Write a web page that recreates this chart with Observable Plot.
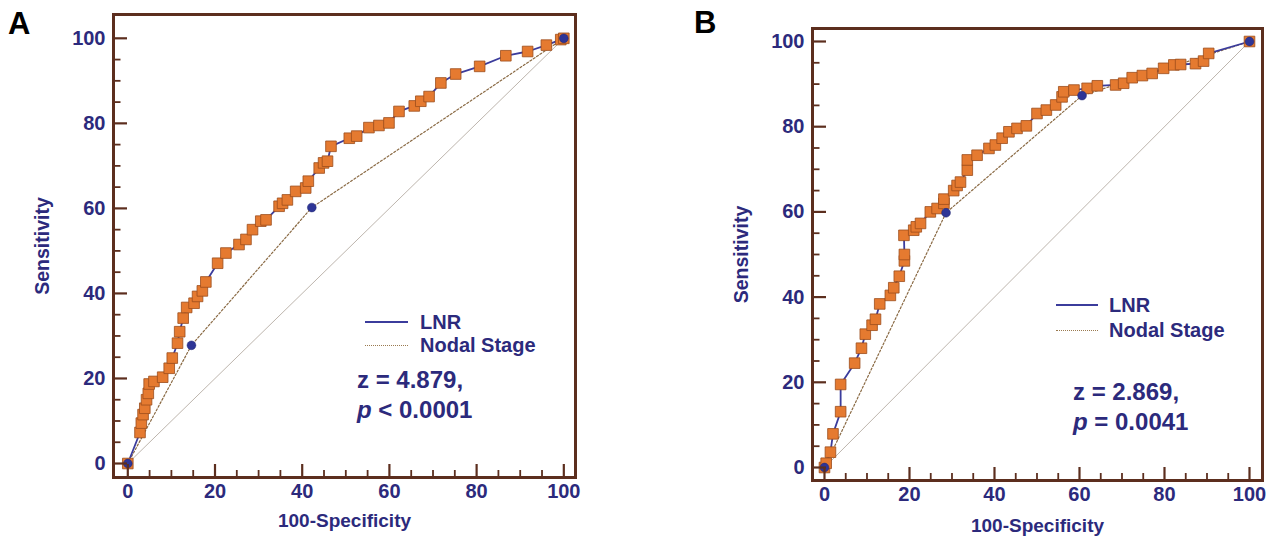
<!DOCTYPE html>
<html><head><meta charset="utf-8">
<script src="https://cdn.jsdelivr.net/npm/d3@7"></script>
<script src="https://cdn.jsdelivr.net/npm/@observablehq/plot@0.6"></script>
<style>
body{margin:0;background:#fff;width:1271px;height:544px;position:relative;overflow:hidden;font-family:Arial,"Liberation Sans",sans-serif;}
.panel{position:absolute;top:0;}
.tag{position:absolute;font-weight:bold;font-size:31px;line-height:1;color:#000;}
.lg{position:absolute;font-weight:bold;color:#2c2a7c;font-size:20px;line-height:1;white-space:nowrap;}
.zt{position:absolute;font-weight:bold;color:#2c2a7c;font-size:24px;line-height:1;white-space:nowrap;}
.sw{position:absolute;height:0;}
</style></head>
<body>
<div class="tag" style="left:8px;top:8px;">A</div>
<div class="tag" style="left:694px;top:7px;">B</div>
<div id="pa" class="panel" style="left:0;width:640px;"></div>
<div id="pb" class="panel" style="left:640px;width:631px;"></div>

<div class="sw" style="left:365px;top:321px;width:43px;border-top:2px solid #3b3c9c;"></div>
<div class="lg" style="left:420px;top:312px;">LNR</div>
<div class="sw" style="left:365px;top:345px;width:43px;border-top:1px dotted #9a7a50;"></div>
<div class="lg" style="left:420px;top:335px;">Nodal Stage</div>
<div class="zt" style="left:357px;top:368px;">z = 4.879,</div>
<div class="zt" style="left:357px;top:398px;"><i>p</i> &lt; 0.0001</div>

<div class="sw" style="left:1056px;top:304px;width:42px;border-top:2px solid #3b3c9c;"></div>
<div class="lg" style="left:1109px;top:295px;">LNR</div>
<div class="sw" style="left:1056px;top:330px;width:42px;border-top:1px dotted #9a7a50;"></div>
<div class="lg" style="left:1109px;top:320px;">Nodal Stage</div>
<div class="zt" style="left:1073px;top:380px;">z = 2.869,</div>
<div class="zt" style="left:1073px;top:410px;"><i>p</i> = 0.0041</div>

<script>
// ---- Data (100-Specificity, Sensitivity) ----
const aLnrX = [0,2.8,3.1,3.5,3.9,4.3,4.7,4.9,6,8,9.5,10.2,11.4,11.9,12.7,13.5,15.2,16,17.1,17.9,20.6,22.5,25.5,27.1,28.6,30.5,31.7,34.7,35.5,36.6,38.5,40.8,41.4,43.9,44.9,45.8,46.6,50.8,52.5,55.3,57.6,59.9,62.2,65.7,67.2,69.1,71.8,75.2,80.7,86.7,91.7,96,99.3,100];
const aLnrY = [0,7.3,9.5,11.5,13,15,16.5,18.7,19.3,20.3,22.4,24.8,28.3,31,34.2,36.7,37.7,39.3,40.6,42.7,47.1,49.5,51.5,52.7,55,57,57.3,60.5,61.2,62,64,64.8,66.4,69.5,70.7,71.1,74.6,76.5,77,79,79.5,80.1,82.8,84.1,85.2,86.3,89.5,91.6,93.4,95.9,96.9,98.4,99.7,100];
const aNodalX = [0,14.6,42.2,100];
const aNodalY = [0,27.8,60.2,100];

const bLnrX = [0,0.4,1.4,2,3.8,3.8,7.1,8.7,9.6,11.2,12,13,15.5,16.3,17.6,18.8,18.8,18.7,21,21.6,22.6,24.9,26.5,28.1,28.1,30.4,31.2,32,33.6,33.6,35.9,38.7,40.2,41.8,43.4,45.3,47.5,50,52.2,54.4,55.9,56.3,58.7,61.8,64.2,68.5,70.4,72.4,74.8,77.1,79.8,82.2,83.8,87.3,89.2,90.4,100];
const bLnrY = [0,1,3.6,7.9,13.1,19.5,24.5,28,31.3,33.4,34.8,38.4,40.4,42.2,44.9,48.5,50,54.5,55.7,56.5,57.3,60,60.8,62,63,65,66.2,67,69.8,72.2,73.3,74.9,75.7,77.3,78.8,79.6,80.2,83.1,83.9,85.1,87,88.2,88.6,89,89.6,89.8,90.2,91.5,92,92.5,93.7,94.5,94.6,94.8,95.4,97.2,100];
const bNodalX = [0,28.6,60.6,100];
const bNodalY = [0,59.8,87.3,100];

const diagX = [0,100];
const diagY = [0,100];

const majorTicks = [0,20,40,60,80,100];
const minorTicks = [5,10,15,25,30,35,45,50,55,65,70,75,85,90,95];
const xTitle = "100-Specificity";
const yTitle = "Sensitivity";

// ---- Styles ----
const NAVY = "#2c2a7c";
const BROWN = "#5c2e1e";
const LINE = "#3b3c9c";
const SQ_FILL = "#e57a30";
const SQ_STROKE = "#9c4c1c";
const DOT = "#2e3596";
const FONT = "Arial, 'Liberation Sans', sans-serif";

function zip(xs, ys){ return xs.map((x,i)=>({x, y: ys[i]})); }

function panel(cfg){
  const {width, height, ml, mr, mt, mb, xDom, yDom, lnr, nodal, yTitleDx, xTitleDy} = cfg;
  const kx = (width - ml - mr) / (xDom[1] - xDom[0]);
  const ky = (height - mt - mb) / (yDom[1] - yDom[0]);
  const diag = zip(diagX, diagY);
  return Plot.plot({
    width, height,
    marginLeft: ml, marginRight: mr, marginTop: mt, marginBottom: mb,
    style: {fontFamily: FONT, fontWeight: "bold", background: "transparent", overflow: "visible"},
    x: {domain: xDom},
    y: {domain: yDom},
    marks: [
      Plot.line(diag, {x: "x", y: "y", stroke: "#bdb5ad", strokeWidth: 1}),
      Plot.line(nodal, {x: "x", y: "y", stroke: "#8a6a44", strokeWidth: 1.2, strokeDasharray: "2,2"}),
      Plot.line(lnr, {x: "x", y: "y", stroke: LINE, strokeWidth: 1.8}),
      Plot.dot(lnr, {x: "x", y: "y", symbol: "square", r: 6, fill: SQ_FILL, stroke: SQ_STROKE, strokeWidth: 0.8}),
      Plot.dot(nodal, {x: "x", y: "y", r: 4.4, fill: DOT, stroke: "#1f2470", strokeWidth: 0.5}),
      // inward ticks
      Plot.ruleY(majorTicks, {y: d => d, x1: xDom[0], x2: xDom[0] + 14 / kx, stroke: BROWN, strokeWidth: 2.2}),
      Plot.ruleY(minorTicks, {y: d => d, x1: xDom[0], x2: xDom[0] + 7.5 / kx, stroke: BROWN, strokeWidth: 1.8}),
      Plot.ruleX(majorTicks, {x: d => d, y1: yDom[0], y2: yDom[0] + 13 / ky, stroke: BROWN, strokeWidth: 2.2}),
      Plot.ruleX(minorTicks, {x: d => d, y1: yDom[0], y2: yDom[0] + 7 / ky, stroke: BROWN, strokeWidth: 1.8}),
      Plot.frame({stroke: BROWN, strokeWidth: 3}),
      Plot.axisY(majorTicks, {anchor: "left", tickSize: 0, tickPadding: 8, fontSize: 20, fontWeight: "bold", color: NAVY, label: null}),
      Plot.axisX(majorTicks, {anchor: "bottom", tickSize: 0, tickPadding: 6, fontSize: 20, fontWeight: "bold", color: NAVY, label: null}),
      Plot.text([yTitle], {text: d => d, frameAnchor: "left", textAnchor: "middle", dx: yTitleDx, rotate: -90, fontSize: 19.5, fontWeight: "bold", fill: NAVY}),
      Plot.text([xTitle], {text: d => d, frameAnchor: "bottom", textAnchor: "middle", dy: xTitleDy, fontSize: 19, fontWeight: "bold", fill: NAVY})
    ]
  });
}

document.getElementById("pa").append(panel({
  width: 640, height: 544, ml: 113, mr: 65, mt: 14, mb: 67,
  xDom: [-3.28, 102.68], yDom: [-3.29, 105.6],
  lnr: zip(aLnrX, aLnrY), nodal: zip(aNodalX, aNodalY),
  yTitleDx: -71, xTitleDy: 49
}));
document.getElementById("pb").append(panel({
  width: 631, height: 544, ml: 172, mr: 9, mt: 28, mb: 64,
  xDom: [-2.82, 103.06], yDom: [-3.05, 103.05],
  lnr: zip(bLnrX, bLnrY), nodal: zip(bNodalX, bNodalY),
  yTitleDx: -71, xTitleDy: 51
}));
</script>
</body></html>
